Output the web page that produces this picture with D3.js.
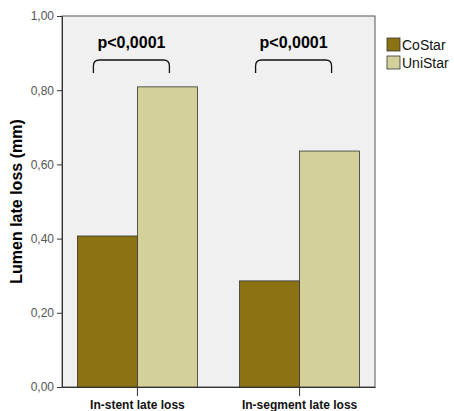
<!DOCTYPE html>
<html>
<head>
<meta charset="utf-8">
<script src="https://cdn.jsdelivr.net/npm/d3@7"></script>
<style>
  body { margin: 0; background: #fff; }
  text { font-family: Arial, "Liberation Sans", sans-serif; }
</style>
</head>
<body>
<div id="main-container"></div>
<script>
const WIDTH = 454;
const HEIGHT = 411;
const PLOT = { left: 62, top: 16, right: 375, bottom: 387 };

const CATEGORIES = ['In-stent late loss', 'In-segment late loss'];
const SERIES = ['CoStar', 'UniStar'];
const COSTAR_VALUES = [0.407, 0.286];
const UNISTAR_VALUES = [0.809, 0.636];
const Y_TICKS = [0, 0.2, 0.4, 0.6, 0.8, 1.0];
const P_LABELS = ['p<0,0001', 'p<0,0001'];
const COLORS = ['#8b7314', '#d4d09a'];

const SVG = d3.select('#main-container')
  .append('svg')
  .attr('width', WIDTH)
  .attr('height', HEIGHT);

const X_SCALE = d3.scaleBand()
  .domain(CATEGORIES)
  .range([PLOT.left, PLOT.right])
  .paddingInner(0.26)
  .paddingOuter(0.095);

const X_SUB = d3.scaleBand()
  .domain(SERIES)
  .range([0, X_SCALE.bandwidth()]);

const Y_SCALE = d3.scaleLinear()
  .domain([0, 1])
  .range([PLOT.bottom, PLOT.top]);

// plot background
SVG.append('rect')
  .attr('x', PLOT.left)
  .attr('y', PLOT.top)
  .attr('width', PLOT.right - PLOT.left)
  .attr('height', PLOT.bottom - PLOT.top)
  .attr('fill', '#f0f0f0')
  .attr('stroke', '#555')
  .attr('stroke-width', 1);

// bars
const groups = SVG.selectAll('g.cat')
  .data(CATEGORIES)
  .enter()
  .append('g')
  .attr('class', 'cat')
  .attr('transform', d => `translate(${X_SCALE(d)},0)`);

groups.selectAll('rect')
  .data((d, i) => SERIES.map((s, j) => ({ s, v: j === 0 ? COSTAR_VALUES[i] : UNISTAR_VALUES[i] })))
  .enter()
  .append('rect')
  .attr('x', d => X_SUB(d.s))
  .attr('y', d => Y_SCALE(d.v))
  .attr('width', X_SUB.bandwidth())
  .attr('height', d => Y_SCALE(0) - Y_SCALE(d.v))
  .attr('fill', (d, j) => COLORS[j])
  .attr('stroke', '#333')
  .attr('stroke-width', 0.8);

// y axis
const Y_AXIS = d3.axisLeft(Y_SCALE)
  .tickValues(Y_TICKS)
  .tickSize(5)
  .tickFormat(d => d3.format('.2f')(d).replace('.', ','));
const yg = SVG.append('g')
  .attr('transform', `translate(${PLOT.left},0)`)
  .call(Y_AXIS);
yg.select('.domain').attr('stroke', '#333');
yg.selectAll('line').attr('stroke', '#333');
yg.selectAll('text')
  .attr('fill', '#555')
  .style('font-size', '12px');

// x axis
const X_AXIS = d3.axisBottom(X_SCALE).tickSize(9).tickSizeOuter(0);
const xg = SVG.append('g')
  .attr('transform', `translate(0,${PLOT.bottom})`)
  .call(X_AXIS);
xg.select('.domain').attr('stroke', '#333');
xg.selectAll('line').attr('stroke', '#333');
xg.selectAll('text')
  .attr('fill', '#111')
  .attr('dy', '0.8em')
  .style('font-size', '12px')
  .style('font-weight', 'bold');

// y title
SVG.append('text')
  .attr('transform', `translate(22,${(PLOT.top + PLOT.bottom) / 2}) rotate(-90)`)
  .attr('text-anchor', 'middle')
  .style('font-size', '16px')
  .style('font-weight', 'bold')
  .text('Lumen late loss (mm)');

// significance brackets
const brackets = SVG.selectAll('g.sig')
  .data(CATEGORIES)
  .enter()
  .append('g')
  .attr('class', 'sig')
  .attr('transform', d => `translate(${X_SCALE(d) + X_SCALE.bandwidth() / 2 - 6},0)`);

brackets.append('path')
  .attr('d', 'M-38,73 L-38,66 Q-38,60 -32,60 L32,60 Q38,60 38,66 L38,73')
  .attr('fill', 'none')
  .attr('stroke', '#111')
  .attr('stroke-width', 1.3);

brackets.append('text')
  .attr('x', 0)
  .attr('y', 48)
  .attr('text-anchor', 'middle')
  .style('font-size', '16px')
  .style('font-weight', 'bold')
  .text((d, i) => P_LABELS[i]);

// legend
const legend = SVG.append('g').attr('transform', 'translate(387,38)');
legend.selectAll('rect')
  .data(SERIES)
  .enter()
  .append('rect')
  .attr('x', 0)
  .attr('y', (d, i) => i * 18)
  .attr('width', 13)
  .attr('height', 13)
  .attr('fill', (d, i) => COLORS[i])
  .attr('stroke', '#333')
  .attr('stroke-width', 0.8);
legend.selectAll('text')
  .data(SERIES)
  .enter()
  .append('text')
  .attr('x', 15)
  .attr('y', (d, i) => i * 18 + 12)
  .style('font-size', '14px')
  .attr('fill', '#111')
  .text(d => d);
</script>
</body>
</html>
